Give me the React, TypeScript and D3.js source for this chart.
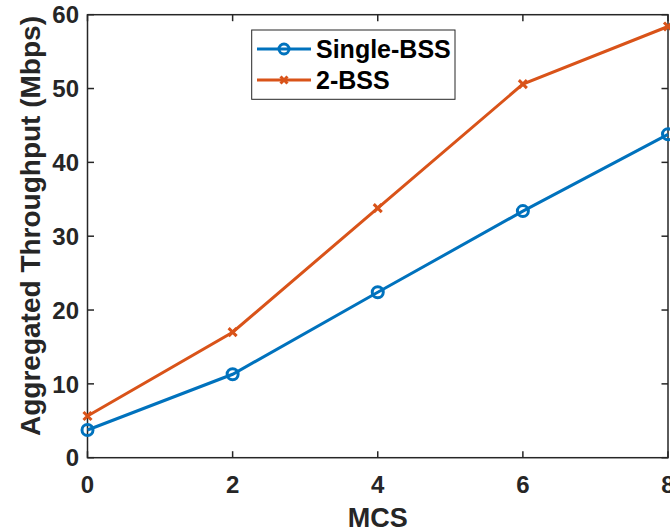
import { useEffect, useRef } from 'react';
import * as d3 from 'd3';

const mcs = [0, 2, 4, 6, 8];
const singleBss = [3.75, 11.3, 22.4, 33.4, 43.8];
const twoBss = [5.65, 17.0, 33.8, 50.6, 58.4];
const xTicks = [0, 2, 4, 6, 8];
const yTicks = [0, 10, 20, 30, 40, 50, 60];
const seriesNames = ['Single-BSS', '2-BSS'];

const W = 670;
const H = 530;
const FONT = '"Liberation Sans", Arial, Helvetica, sans-serif';
const AXIS = '#262626';
const BLUE = '#0072BD';
const ORANGE = '#D95319';

export default function App() {
  const ref = useRef<SVGSVGElement | null>(null);

  useEffect(() => {
    const svg = d3.select(ref.current);
    svg.selectAll('*').remove();

    const left = 87.5, right = 668, top = 14.7, bottom = 457.7;
    const x = d3.scaleLinear().domain([0, 8]).range([left, right]);
    const y = d3.scaleLinear().domain([0, 60]).range([bottom, top]);
    const tick = 6.5;

    const g = svg.append('g');

    // box
    g.append('rect')
      .attr('x', left).attr('y', top)
      .attr('width', right - left).attr('height', bottom - top)
      .attr('fill', 'none').attr('stroke', AXIS).attr('stroke-width', 1.5);

    // ticks (inward, all four sides)
    xTicks.forEach(t => {
      g.append('line').attr('x1', x(t)).attr('x2', x(t)).attr('y1', bottom).attr('y2', bottom - tick)
        .attr('stroke', AXIS).attr('stroke-width', 1.5);
      g.append('line').attr('x1', x(t)).attr('x2', x(t)).attr('y1', top).attr('y2', top + tick)
        .attr('stroke', AXIS).attr('stroke-width', 1.5);
      g.append('text').attr('x', x(t)).attr('y', 493)
        .attr('text-anchor', 'middle').attr('font-family', FONT).attr('font-weight', 'bold')
        .attr('font-size', 24).attr('fill', AXIS).text(t);
    });
    yTicks.forEach(t => {
      g.append('line').attr('x1', left).attr('x2', left + tick).attr('y1', y(t)).attr('y2', y(t))
        .attr('stroke', AXIS).attr('stroke-width', 1.5);
      g.append('line').attr('x1', right).attr('x2', right - tick).attr('y1', y(t)).attr('y2', y(t))
        .attr('stroke', AXIS).attr('stroke-width', 1.5);
      g.append('text').attr('x', 79).attr('y', y(t)).attr('dy', '0.36em')
        .attr('text-anchor', 'end').attr('font-family', FONT).attr('font-weight', 'bold')
        .attr('font-size', 24).attr('fill', AXIS).text(t);
    });

    // axis labels
    g.append('text').attr('x', (left + right) / 2).attr('y', 527)
      .attr('text-anchor', 'middle').attr('font-family', FONT).attr('font-weight', 'bold')
      .attr('font-size', 27).attr('fill', AXIS).text('MCS');
    g.append('text')
      .attr('transform', `translate(40,${(20 + 432) / 2}) rotate(-90)`)
      .attr('text-anchor', 'middle').attr('font-family', FONT).attr('font-weight', 'bold')
      .attr('font-size', 28).attr('fill', AXIS).text('Aggregated Throughput (Mbps)');

    const line = d3.line<number>().x((_, i) => x(mcs[i])).y(d => y(d));

    // Single-BSS
    g.append('path').datum(singleBss).attr('d', line)
      .attr('fill', 'none').attr('stroke', BLUE).attr('stroke-width', 3);
    g.selectAll('.circ').data(singleBss).enter().append('circle')
      .attr('cx', (_, i) => x(mcs[i])).attr('cy', d => y(d)).attr('r', 5.5)
      .attr('fill', 'none').attr('stroke', BLUE).attr('stroke-width', 3);

    // 2-BSS
    g.append('path').datum(twoBss).attr('d', line)
      .attr('fill', 'none').attr('stroke', ORANGE).attr('stroke-width', 3);
    const cross = (cx: number, cy: number, s: number, col: string, parent: any) => {
      parent.append('path')
        .attr('d', `M${cx - s},${cy - s}L${cx + s},${cy + s}M${cx - s},${cy + s}L${cx + s},${cy - s}`)
        .attr('stroke', col).attr('stroke-width', 3).attr('fill', 'none');
    };
    twoBss.forEach((d, i) => cross(x(mcs[i]), y(d), 4, ORANGE, g));

    // legend
    const lg = g.append('g');
    lg.append('rect').attr('x', 251.7).attr('y', 30).attr('width', 203.3).attr('height', 69.3)
      .attr('fill', 'white').attr('stroke', AXIS).attr('stroke-width', 1);
    const rows = [49, 80];
    const cols = [BLUE, ORANGE];
    seriesNames.forEach((name, i) => {
      lg.append('line').attr('x1', 257).attr('x2', 311).attr('y1', rows[i]).attr('y2', rows[i])
        .attr('stroke', cols[i]).attr('stroke-width', 3);
      if (i === 0) {
        lg.append('circle').attr('cx', 284).attr('cy', rows[i]).attr('r', 5)
          .attr('fill', 'none').attr('stroke', BLUE).attr('stroke-width', 3);
      } else {
        cross(284, rows[i], 3.5, ORANGE, lg);
      }
      lg.append('text').attr('x', 316).attr('y', rows[i]).attr('dy', '0.36em')
        .attr('font-family', FONT).attr('font-weight', 'bold').attr('font-size', 25)
        .attr('fill', '#000').text(name);
    });
  }, []);

  return (
    <svg
      ref={ref}
      width={W}
      height={H}
      style={{ position: 'absolute', left: 0, top: 0, display: 'block', background: 'white' }}
    />
  );
}
